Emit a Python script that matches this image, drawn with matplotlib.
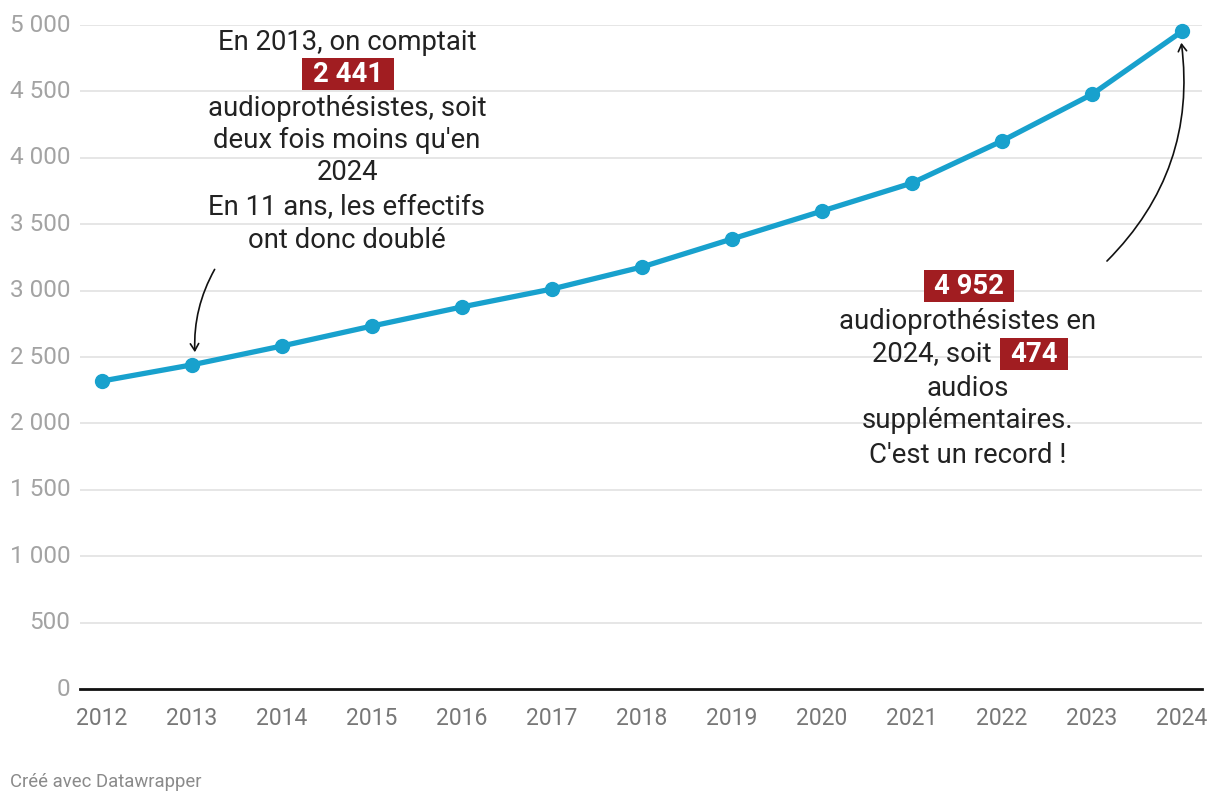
import matplotlib
matplotlib.use("Agg")
import matplotlib.pyplot as plt
from matplotlib.patches import Rectangle

years = [2012, 2013, 2014, 2015, 2016, 2017, 2018, 2019, 2020, 2021, 2022, 2023, 2024]
values = [2319, 2441, 2583, 2733, 2877, 3012, 3178, 3389, 3599, 3810, 4127, 4478, 4952]
yticks = [0, 500, 1000, 1500, 2000, 2500, 3000, 3500, 4000, 4500, 5000]
ytick_labels = ["0", "500", "1 000", "1 500", "2 000", "2 500", "3 000", "3 500",
                "4 000", "4 500", "5 000"]

plt.rcParams['font.family'] = ['Roboto', 'DejaVu Sans']

W, H = 1220, 806
fig = plt.figure(figsize=(W / 100, H / 100), dpi=100)
ax = fig.add_axes([80 / W, 1 - 689 / H, (1202 - 80) / W, (689 - 25) / H])

LINE = '#18a1cd'
RED = '#a11d21'
TXT = '#222222'

ax.plot(years, values, color=LINE, lw=3.8, marker='o', ms=10, clip_on=False, zorder=5,
        solid_capstyle='round')
ax.set_xlim(2012 - 22 / 90, 2024 + 20 / 90)
ax.set_ylim(0, 5000)
ax.set_yticks(yticks)
ax.set_yticklabels(ytick_labels)
ax.set_xticks(years)
ax.set_xticklabels([str(y) for y in years])
for s in ['top', 'right', 'left']:
    ax.spines[s].set_visible(False)
ax.spines['bottom'].set_color('#111111')
ax.spines['bottom'].set_linewidth(2)
ax.grid(axis='y', color='#e2e2e2', lw=1.2)
ax.set_axisbelow(True)
ax.tick_params(axis='y', length=0, pad=7, labelsize=17.5, labelcolor='#a3a3a3')
ax.tick_params(axis='x', length=0, pad=13, labelsize=16.5, labelcolor='#777777')
for lab in ax.get_yticklabels():
    lab.set_verticalalignment('center')


def P(x, y):
    return (x / W, 1 - y / H)


def box(x0, x1, y0, y1):
    fig.patches.append(Rectangle(P(x0, y1), (x1 - x0) / W, (y1 - y0) / H,
                                 transform=fig.transFigure, fc=RED, ec='none', zorder=1))


fs = 19.8
left_lines = [("En 2013, on comptait", 42), ("audioprothésistes, soit", 108),
              ("deux fois moins qu'en", 140), ("2024", 173),
              ("En 11 ans, les effectifs", 208), ("ont donc doublé", 241)]
for t, y in left_lines:
    fig.text(*P(347, y), t, ha='center', va='center', fontsize=fs, color=TXT)
box(302, 394, 58, 90)
fig.text(*P(348, 74), "2 441", ha='center', va='center', fontsize=fs, color='white',
         fontweight='bold', zorder=3)

right_lines = [("audioprothésistes en", 321), ("audios", 388),
               ("supplémentaires.", 421), ("C'est un record !", 455)]
for t, y in right_lines:
    fig.text(*P(968, y), t, ha='center', va='center', fontsize=fs, color=TXT)
box(924, 1014, 270, 302)
fig.text(*P(969, 286), "4 952", ha='center', va='center', fontsize=fs, color='white',
         fontweight='bold', zorder=3)
fig.text(*P(992, 354), "2024, soit", ha='right', va='center', fontsize=fs, color=TXT)
box(1000, 1068, 338, 370)
fig.text(*P(1034, 354), "474", ha='center', va='center', fontsize=fs, color='white',
         fontweight='bold', zorder=3)

ax.annotate("", xy=P(195, 355), xycoords='figure fraction', xytext=P(216, 267),
            textcoords='figure fraction',
            arrowprops=dict(arrowstyle='->,head_length=0.5,head_width=0.3', color='#111111', lw=1.2,
                            connectionstyle='arc3,rad=0.15'))
ax.annotate("", xy=P(1181, 40), xycoords='figure fraction', xytext=P(1105, 263),
            textcoords='figure fraction',
            arrowprops=dict(arrowstyle='->,head_length=0.5,head_width=0.3', color='#111111', lw=1.2,
                            connectionstyle='arc3,rad=0.25'))

fig.text(*P(10, 782), "Créé avec Datawrapper", ha='left', va='center', fontsize=13.3,
         color='#8a8a8a')

fig.savefig("out.png", dpi=100)
